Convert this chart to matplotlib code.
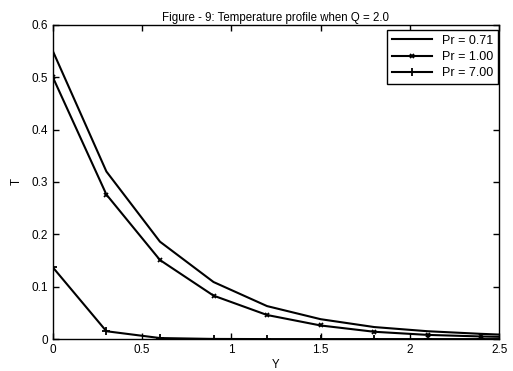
import matplotlib
matplotlib.use('Agg')
import matplotlib.pyplot as plt

plt.rcParams['font.family'] = ['Liberation Sans', 'DejaVu Sans']

Y = [0, 0.3, 0.6, 0.9, 1.2, 1.5, 1.8, 2.1, 2.4, 2.7]
T_071 = [0.55, 0.32, 0.186, 0.109, 0.063, 0.038, 0.023, 0.015, 0.010, 0.006]
T_100 = [0.50, 0.276, 0.151, 0.083, 0.046, 0.026, 0.014, 0.008, 0.005, 0.003]
T_700 = [0.137, 0.015, 0.002, 0.0003, 0.0, 0.0, 0.0, 0.0, 0.0, 0.0]

fig = plt.figure(figsize=(5.13, 3.71), dpi=100)
ax = fig.add_axes([0.103, 0.086, 0.870, 0.847])

ax.plot(Y, T_071, color='k', lw=1.5, label='Pr = 0.71')
ax.plot(Y, T_100, color='k', lw=1.5, marker='x', ms=3, mew=1.3, label='Pr = 1.00')
ax.plot(Y, T_700, color='k', lw=1.5, marker='+', ms=6, mew=1.3, label='Pr = 7.00')

ax.set_xlim(0, 2.5)
ax.set_ylim(0, 0.6)
ax.set_xticks([0, 0.5, 1, 1.5, 2, 2.5])
ax.set_xticklabels(['0', '0.5', '1', '1.5', '2', '2.5'])
ax.set_yticks([0, 0.1, 0.2, 0.3, 0.4, 0.5, 0.6])
ax.set_yticklabels(['0', '0.1', '0.2', '0.3', '0.4', '0.5', '0.6'])
ax.tick_params(direction='in', top=True, right=True, labelsize=8.5, length=4, width=1)
for s in ax.spines.values():
    s.set_linewidth(1)

ax.set_title('Figure - 9: Temperature profile when Q = 2.0', fontsize=8.3, pad=3)
ax.set_xlabel('Y', fontsize=8.3, labelpad=2)
ax.set_ylabel('T', fontsize=8.3, labelpad=6)

leg = ax.legend(loc='upper right', bbox_to_anchor=(0.997, 0.985), fontsize=9,
                fancybox=False, framealpha=1, edgecolor='k', handlelength=3.2,
                borderaxespad=0, labelspacing=0.35)
leg.get_frame().set_linewidth(1)

fig.savefig('out.png', dpi=100)
